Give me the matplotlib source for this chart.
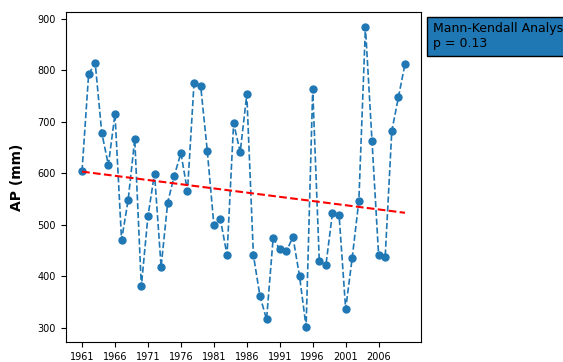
import numpy as np
import matplotlib
matplotlib.use("Agg")
import matplotlib.pyplot as plt

# Annual precipitation series
years = list(range(1961, 2011))
ap = [604, 792, 814, 678, 616, 715, 470, 548, 666, 380,
      516, 599, 418, 543, 595, 639, 565, 776, 770, 644,
      500, 510, 441, 697, 641, 753, 441, 361, 316, 474,
      452, 448, 476, 400, 301, 763, 429, 421, 523, 519,
      336, 436, 546, 884, 662, 441, 438, 682, 747, 812]

# Trend line (Sen's slope) and test result
trend_start = 603
trend_end = 523
p_value = 0.13
tick_years = list(range(1961, 2010, 5))

fig = plt.figure(figsize=(5.63, 3.62), dpi=100)
ax = fig.add_axes([0.117, 0.055, 0.631, 0.912])

ax.plot(years, ap, "o--", color="tab:blue", markersize=5, linewidth=1.2)
slope = (trend_end - trend_start) / (years[-1] - years[0])
trend = [trend_start + slope * (y - years[0]) for y in years]
ax.plot(years, trend, "--", color="red", linewidth=1.5)

ax.set_xticks(tick_years)
ax.tick_params(labelsize=7)
ax.set_ylabel("AP (mm)", fontsize=10, fontweight="bold", labelpad=10)

fig.text(0.769, 0.939, "Mann-Kendall Analysis\np = " + str(p_value),
         fontsize=9, va="top", ha="left",
         bbox=dict(facecolor="tab:blue", edgecolor="black", pad=4))

fig.savefig("out.png", dpi=100)
